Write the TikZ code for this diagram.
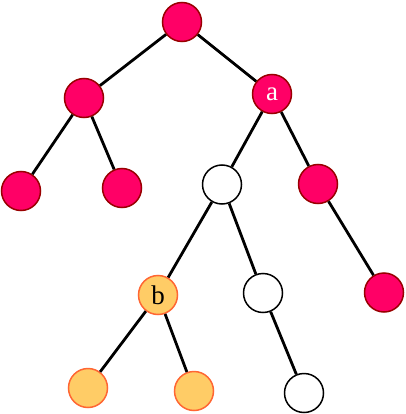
\documentclass[tikz,border=0pt]{standalone}
\usepackage{fontspec}
\setmainfont{Liberation Serif}
\definecolor{redfill}{HTML}{FF0066}
\definecolor{redline}{HTML}{990000}
\definecolor{orfill}{HTML}{FFCC66}
\definecolor{orline}{HTML}{FF6633}
\begin{document}
\begin{tikzpicture}[x=1pt,y=-1pt,
  vtx/.style={circle,minimum size=39pt,inner sep=0pt,line width=1.5pt,font=\fontsize{27}{27}\selectfont},
  rednode/.style={vtx,fill=redfill,draw=redline,text=white},
  ornode/.style={vtx,fill=orfill,draw=orline,text=black},
  whnode/.style={vtx,fill=white,draw=black},
  edge/.style={line width=2.8pt,black}]
\useasboundingbox (0,0) rectangle (405,414);
\node[rednode] (r) at (182,22) {};
\node[rednode] (l) at (84,98) {};
\node[rednode] (a) at (272,94) {a};
\node[rednode] (ll) at (21,191) {};
\node[rednode] (lr) at (122,188) {};
\node[whnode] (w1) at (222,184.5) {};
\node[rednode] (ar) at (318,184) {};
\node[ornode] (b) at (158,295) {b};
\node[whnode] (w2) at (263,293) {};
\node[rednode] (arr) at (384,292.5) {};
\node[ornode] (bl) at (88,388) {};
\node[ornode] (br) at (194,391) {};
\node[whnode] (w3) at (304,393) {};
\draw[edge] (r) -- (l);
\draw[edge] (r) -- (a);
\draw[edge] (l) -- (ll);
\draw[edge] (l) -- (lr);
\draw[edge] (a) -- (w1);
\draw[edge] (a) -- (ar);
\draw[edge] (w1) -- (b);
\draw[edge] (w1) -- (w2);
\draw[edge] (ar) -- (arr);
\draw[edge] (b) -- (bl);
\draw[edge] (b) -- (br);
\draw[edge] (w2) -- (w3);
\end{tikzpicture}
\end{document}
